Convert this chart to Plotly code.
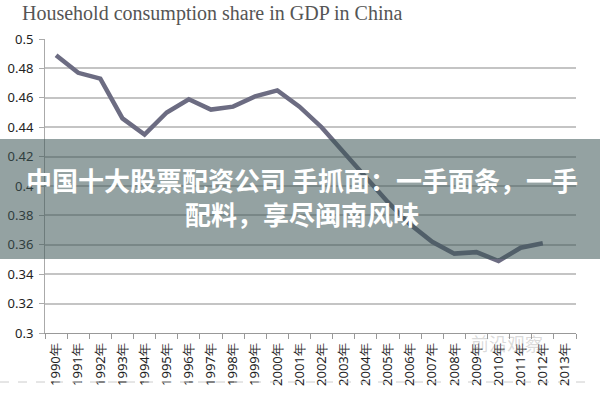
import plotly.graph_objects as go

years = [f"{y}年" for y in range(1990, 2014)]
share = [0.489, 0.477, 0.473, 0.446, 0.435, 0.450, 0.459, 0.452, 0.454, 0.461,
         0.465, 0.454, 0.440, 0.423, 0.405, 0.389, 0.374, 0.362, 0.354, 0.355,
         0.349, 0.358, 0.361, None]
yticks = [0.3, 0.32, 0.34, 0.36, 0.38, 0.4, 0.42, 0.44, 0.46, 0.48, 0.5]
ytick_text = ["0.3", "0.32", "0.34", "0.36", "0.38", "0.4", "0.42", "0.44", "0.46", "0.48", "0.5"]
title_text = "Household consumption share in GDP in China"
banner_line1 = "中国十大股票配资公司 手抓面：一手面条，一手"
banner_line2 = "配料，享尽闽南风味"
watermark = "前沿观察"

fig = go.Figure()
fig.add_trace(go.Scatter(x=years, y=share, mode="lines",
                         line=dict(color="#6c6c82", width=4.5),
                         connectgaps=False, hoverinfo="skip"))

fig.update_layout(
    width=600, height=400,
    margin=dict(l=45, r=24, t=39, b=67, autoexpand=False),
    paper_bgcolor="white", plot_bgcolor="white",
    showlegend=False,
    title=dict(text=title_text, x=22/600, xanchor="left", xref="container",
               y=1 - 6/400, yanchor="top", yref="container", automargin=False,
               font=dict(family="Liberation Serif", size=20, color="#555555")),
    xaxis=dict(type="category", categoryorder="array", categoryarray=years,
               range=[-0.5, 23.5], tickangle=-90, tickson="boundaries",
               ticks="outside", ticklen=5, tickcolor="#999999",
               showline=True, linecolor="#999999", linewidth=1,
               ticklabelstandoff=4, automargin=False,
               showgrid=False, tickfont=dict(family="Noto Sans", size=13, color="#222222")),
    yaxis=dict(range=[0.3, 0.5], tickvals=yticks, ticktext=ytick_text,
               ticks="outside", ticklen=5, tickcolor="#aaaaaa",
               showline=True, linecolor="#aaaaaa", linewidth=1,
               ticklabelstandoff=3, automargin=False,
               showgrid=True, gridcolor="#c4c4c4", gridwidth=1.5,
               zeroline=False,
               tickfont=dict(family="Noto Sans", size=13, color="#222222")),
)

# dashed separator near bottom
fig.add_shape(type="line", xref="paper", yref="paper",
              x0=-45/531, x1=540/531, y0=-49/294, y1=-49/294,
              line=dict(color="#cccccc", width=1, dash="dash"))

# watermark
fig.add_annotation(text=watermark, xref="paper", yref="paper",
                   x=(545 - 45)/531, y=-(358 - 333)/294, showarrow=False,
                   font=dict(family="Noto Sans CJK SC", size=18, color="rgba(150,150,150,0.35)"))

# overlay banner
fig.add_shape(type="rect", xref="paper", yref="paper", layer="above",
              x0=-45/531, x1=555/531, y0=(333 - 259)/294, y1=(333 - 139)/294,
              fillcolor="rgba(60,85,85,0.55)", line=dict(width=0))
fig.add_annotation(text=banner_line1 + "<br>" + banner_line2, xref="paper", yref="paper",
                   x=(302 - 45)/531, y=(333 - 196)/294, showarrow=False, align="center",
                   font=dict(family="Noto Sans CJK SC", size=26, color="white", weight="bold"))

fig.write_html("out.html", config={"displayModeBar": False},
               post_script="document.body.style.margin='0';")
